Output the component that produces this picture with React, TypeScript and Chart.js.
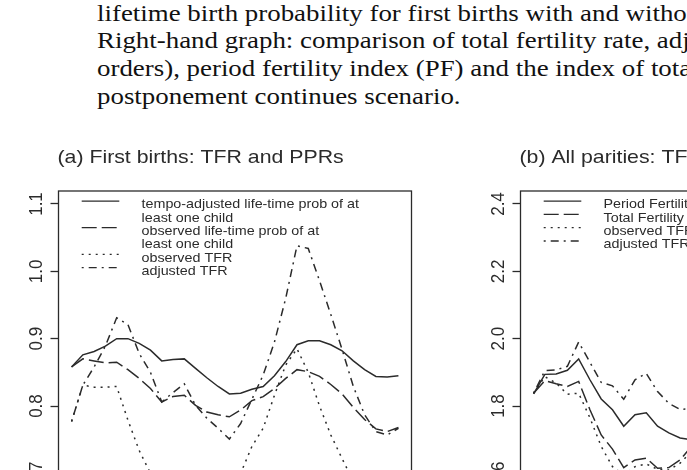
import React, { useEffect, useRef } from "react";
import { Chart, registerables } from "chart.js";

Chart.register(...registerables);

// ---- data -------------------------------------------------------------

const YEARS = [
  1965, 1966, 1967, 1968, 1969, 1970, 1971, 1972, 1973, 1974,
  1975, 1976, 1977, 1978, 1979, 1980, 1981, 1982, 1983, 1984,
  1985, 1986, 1987, 1988, 1989, 1990, 1991, 1992, 1993, 1994,
];

// (a) first births
const firstTempoAdjProb = [
  0.858, 0.876, 0.881, 0.889, 0.9, 0.9, 0.893, 0.883, 0.867, 0.869,
  0.87, 0.856, 0.842, 0.829, 0.818, 0.819, 0.825, 0.829, 0.845, 0.866,
  0.891, 0.897, 0.897, 0.891, 0.882, 0.867, 0.854, 0.844, 0.843, 0.845,
];
const firstObservedProb = [
  0.858, 0.87, 0.867, 0.864, 0.865, 0.854, 0.841, 0.826, 0.806, 0.814,
  0.816, 0.801, 0.791, 0.787, 0.784, 0.794, 0.808, 0.814, 0.826, 0.841,
  0.854, 0.851, 0.844, 0.832, 0.818, 0.798, 0.78, 0.766, 0.762, 0.768,
];
const firstObservedTFR = [
  0.777, 0.831, 0.828, 0.828, 0.829, 0.779, 0.734, 0.7, 0.672, 0.655,
  0.648, 0.645, 0.648, 0.658, 0.676, 0.7, 0.74, 0.767, 0.816, 0.861,
  0.885, 0.85, 0.8, 0.757, 0.722, 0.688, 0.665, 0.65, 0.642, 0.64,
];
const firstAdjustedTFR = [
  0.777, 0.831, 0.858, 0.889, 0.931, 0.921, 0.878, 0.85, 0.806, 0.82,
  0.833, 0.801, 0.782, 0.767, 0.751, 0.774, 0.81, 0.846, 0.895, 0.96,
  1.038, 1.034, 0.986, 0.936, 0.884, 0.829, 0.787, 0.762, 0.757, 0.767,
];

// (b) all parities (first years)
const allPeriodFertility = [
  1.836, 1.894, 1.895, 1.906, 1.94, 1.878, 1.821, 1.789, 1.74, 1.774,
  1.78, 1.74, 1.72, 1.705, 1.7,
];
const allTotalFertility = [
  1.838, 1.875, 1.866, 1.858, 1.873, 1.789, 1.714, 1.672, 1.617, 1.64,
  1.645, 1.615, 1.617, 1.64, 1.68,
];
const allObservedTFR = [
  1.838, 1.887, 1.868, 1.835, 1.838, 1.765, 1.68, 1.62, 1.595, 1.62,
  1.628, 1.612, 1.61, 1.63, 1.665,
];
const allAdjustedTFR = [
  1.838, 1.905, 1.907, 1.918, 1.99, 1.93, 1.87, 1.86, 1.82, 1.878,
  1.897, 1.843, 1.808, 1.79, 1.792,
];

const FIRST_TICKS = [0.7, 0.8, 0.9, 1.0, 1.1];
const ALL_TICKS = [1.6, 1.8, 2.0, 2.2, 2.4];

const CAPTION_LINES = [
  "lifetime birth probability for first births with and without tempo adjustment.",
  "Right-hand graph: comparison of total fertility rate, adjusted TFR (all birth",
  "orders), period fertility index (PF) and the index of total fertility in the",
  "postponement continues scenario.",
];

// ---- style ------------------------------------------------------------

const INK = "#2b2b2b";
const SANS = '"Liberation Sans", Arial, Helvetica, sans-serif';
const H_STRETCH = 1.12;
const SOLID: number[] = [];
const LONG_DASH = [15, 5];
const DOTTED = [2, 5];
const DOT_DASH = [2, 5, 8, 5];

const CANVAS_W = 440;
const CANVAS_H = 600;

type Series = { lines: string[]; values: number[]; dash: number[] };
type PanelSpec = {
  title: string;
  yMin: number;
  yMax: number;
  ticks: number[];
  series: Series[];
};

const firstPanel: PanelSpec = {
  title: "(a) First births: TFR and PPRs",
  yMin: 0.6,
  yMax: 1.1193,
  ticks: FIRST_TICKS,
  series: [
    { lines: ["tempo-adjusted life-time prob of at", "least one child"], values: firstTempoAdjProb, dash: SOLID },
    { lines: ["observed life-time prob of at", "least one child"], values: firstObservedProb, dash: LONG_DASH },
    { lines: ["observed TFR"], values: firstObservedTFR, dash: DOTTED },
    { lines: ["adjusted TFR"], values: firstAdjustedTFR, dash: DOT_DASH },
  ],
};

const allPanel: PanelSpec = {
  title: "(b) All parities: TFR and PF",
  yMin: 1.4,
  yMax: 2.4386,
  ticks: ALL_TICKS,
  series: [
    { lines: ["Period Fertility index (PF)"], values: allPeriodFertility, dash: SOLID },
    { lines: ["Total Fertility (postponement continues)"], values: allTotalFertility, dash: LONG_DASH },
    { lines: ["observed TFR"], values: allObservedTFR, dash: DOTTED },
    { lines: ["adjusted TFR"], values: allAdjustedTFR, dash: DOT_DASH },
  ],
};

// ---- frame, tick labels, title and legend in R-like style ---------------

const panelDecor = {
  id: "panelDecor",
  afterDraw(chart: any, _args: any, opts: any) {
    const { ctx, chartArea: a } = chart;
    const ys = chart.scales.y;
    ctx.save();

    // box around the plot region
    ctx.setLineDash([]);
    ctx.strokeStyle = INK;
    ctx.lineWidth = 1.3;
    ctx.strokeRect(a.left, a.top, a.right - a.left, a.bottom - a.top);

    // rotated y tick labels
    ctx.fillStyle = INK;
    ctx.font = `17px ${SANS}`;
    ctx.textAlign = "center";
    ctx.textBaseline = "alphabetic";
    for (const t of ys.ticks) {
      const y = ys.getPixelForValue(t.value);
      ctx.save();
      ctx.translate(a.left - 16.7, y);
      ctx.scale(H_STRETCH, 1);
      ctx.rotate(-Math.PI / 2);
      ctx.fillText(t.value.toFixed(1), 0, 0);
      ctx.restore();
    }

    // title, left aligned on the plot region
    ctx.save();
    ctx.font = `19px ${SANS}`;
    ctx.textAlign = "left";
    ctx.translate(a.left - 1, a.top - 27.7);
    ctx.scale(H_STRETCH, 1);
    ctx.fillText(opts.title, 0, 0);
    ctx.restore();

    // legend
    const rowStep = 13.3;
    let row = 0;
    chart.data.datasets.forEach((ds: any) => {
      const base = a.top + 17.3 + row * rowStep;
      ctx.save();
      ctx.strokeStyle = INK;
      ctx.lineWidth = 1.3;
      ctx.setLineDash(ds.borderDash || []);
      ctx.beginPath();
      ctx.moveTo(a.left + 23.2, base - 7.2);
      ctx.lineTo(a.left + 60.8, base - 7.2);
      ctx.stroke();
      ctx.restore();
      (ds.legendLines as string[]).forEach((line: string) => {
        const b = a.top + 17.3 + row * rowStep;
        ctx.save();
        ctx.font = `12.8px ${SANS}`;
        ctx.textAlign = "left";
        ctx.translate(a.left + 83, b);
        ctx.scale(H_STRETCH, 1);
        ctx.fillText(line, 0, 0);
        ctx.restore();
        row += 1;
      });
    });

    ctx.restore();
  },
};

function Panel({ spec, left }: { spec: PanelSpec; left: number }) {
  const ref = useRef<HTMLCanvasElement | null>(null);

  useEffect(() => {
    if (!ref.current) return;
    const chart = new Chart(ref.current, {
      type: "line",
      data: {
        datasets: spec.series.map((s) => ({
          label: s.lines.join(" "),
          legendLines: s.lines,
          data: s.values.map((v, i) => ({ x: YEARS[i], y: v })),
          borderColor: INK,
          borderWidth: 1.5,
          borderDash: s.dash,
          pointRadius: 0,
          tension: 0,
          fill: false,
        })) as any,
      },
      options: {
        responsive: false,
        animation: false,
        events: [],
        layout: { padding: { left: 8.5, top: 191, right: 28.5, bottom: 59.3 } },
        scales: {
          x: { type: "linear", min: 1963.84, max: 1995.16, display: false },
          y: {
            type: "linear",
            min: spec.yMin,
            max: spec.yMax,
            afterBuildTicks: (scale: any) => {
              scale.ticks = spec.ticks.map((v) => ({ value: v }));
            },
            afterFit: (scale: any) => {
              scale.width = 50;
            },
            grid: {
              drawOnChartArea: false,
              drawTicks: true,
              tickLength: 8,
              tickColor: INK,
              tickWidth: 1.3,
            },
            border: { display: false },
            ticks: { display: false },
          },
        },
        plugins: {
          legend: { display: false },
          tooltip: { enabled: false },
          title: { display: false },
          panelDecor: { title: spec.title },
        } as any,
      },
      plugins: [panelDecor],
    });
    return () => chart.destroy();
  }, [spec]);

  return (
    <canvas
      ref={ref}
      width={CANVAS_W}
      height={CANVAS_H}
      style={{ position: "absolute", left, top: 0, width: CANVAS_W, height: CANVAS_H }}
    />
  );
}

const CAPTION_SIZE = 24;
const CAPTION_BASELINES = [20.7, 48.3, 76, 103.6];

export default function App() {
  return (
    <div
      style={{
        position: "fixed",
        left: 0,
        top: 0,
        width: 687,
        height: 470,
        overflow: "hidden",
        background: "#fff",
      }}
    >
      {CAPTION_LINES.map((line, i) => (
        <div
          key={i}
          style={{
            position: "absolute",
            left: 96.7,
            top: CAPTION_BASELINES[i] - CAPTION_SIZE * 0.8375,
            fontFamily: '"Liberation Serif", "Times New Roman", serif',
            fontSize: CAPTION_SIZE,
            lineHeight: `${CAPTION_SIZE}px`,
            whiteSpace: "nowrap",
            color: "#111",
            transform: `scaleX(${H_STRETCH})`,
            transformOrigin: "0 0",
          }}
        >
          {line}
        </div>
      ))}
      <Panel spec={firstPanel} left={0} />
      <Panel spec={allPanel} left={462} />
    </div>
  );
}
